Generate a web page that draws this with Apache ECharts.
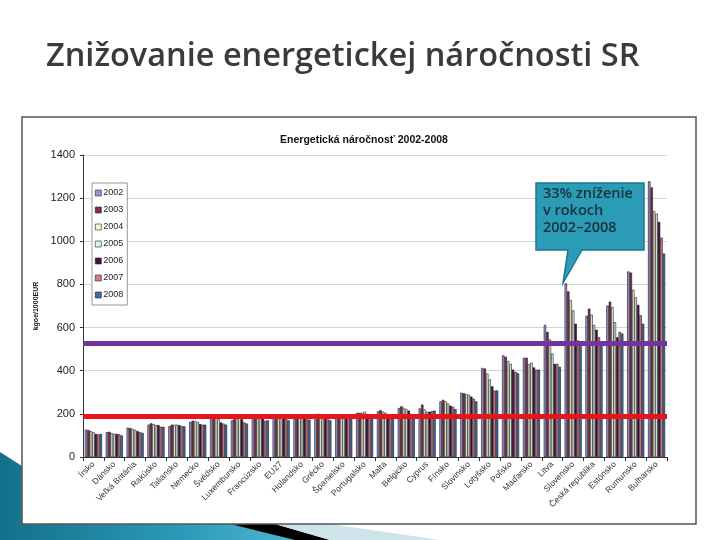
<!DOCTYPE html>
<html><head><meta charset="utf-8">
<script src="https://cdn.jsdelivr.net/npm/echarts@6/dist/echarts.min.js"></script>
<style>html,body{margin:0;padding:0;background:#fff}#c{width:720px;height:540px}</style>
</head><body><div id="c"></div>
<script>
const categories = ['Írsko','Dánsko','Veľká Británia','Rakúsko','Taliansko','Nemecko','Švédsko','Luxembursko','Francúzsko','EU27','Holandsko','Grécko','Španielsko','Portugalsko','Malta','Belgicko','Cyprus','Fínsko','Slovinsko','Lotyšsko','Poľsko','Maďarsko','Litva','Slovensko','Česká republika','Estónsko','Rumunsko','Bulharsko'];
const years = ['2002','2003','2004','2005','2006','2007','2008'];
const v2002 = [127,115,136,150,143,163,195,170,190,190,190,195,190,205,212,227,225,258,298,413,471,460,612,805,655,702,860,1278];
const v2003 = [125,117,134,156,150,168,190,180,190,190,190,200,192,205,217,235,243,265,295,410,465,460,580,768,688,720,855,1250];
const v2004 = [120,110,130,153,150,167,180,185,187,190,190,195,192,205,210,228,220,258,292,387,445,430,545,728,660,695,775,1140];
const v2005 = [115,108,126,148,150,162,175,185,185,188,188,190,192,210,205,222,210,248,288,360,432,437,480,680,612,625,740,1128];
const v2006 = [107,107,120,148,148,153,160,175,178,185,187,187,190,200,190,215,210,238,280,328,405,415,432,618,590,555,705,1090];
const v2007 = [105,105,115,140,143,150,155,160,168,178,180,183,185,195,185,200,213,233,270,308,395,405,432,540,555,580,657,1017];
const v2008 = [107,100,112,140,142,150,150,155,170,170,173,170,180,190,190,198,215,222,258,308,388,405,418,535,530,572,618,943];
const seriesValues = [v2002,v2003,v2004,v2005,v2006,v2007,v2008];
const yTicks = [0,200,400,600,800,1000,1200,1400];
const refLines = [527, 188];

const colors = ['#9A93D8','#7E2F4E','#F7F5CC','#DAF4F0','#4A0D40','#D97A85','#3A6DB0'];
const chart = echarts.init(document.getElementById('c'), null, {renderer:'canvas'});

const series = years.map((y,i)=>({
  name: y, type:'bar', data: seriesValues[i],
  barGap: '0%', barCategoryGap: '18%',
  itemStyle:{color:colors[i], borderColor:'#1a1a1a', borderWidth:0.6},
  z: 2
}));
series[0].markLine = {
  silent:true, symbol:['none','none'], z:5,
  label:{show:false},
  data:[
    {yAxis: refLines[0], lineStyle:{color:'#7533A0', width:5, type:'solid'}},
    {yAxis: refLines[1], lineStyle:{color:'#E8141C', width:5, type:'solid'}}
  ]
};

chart.setOption({
  animation:false,
  backgroundColor:'#fff',
  textStyle:{fontFamily:'Liberation Sans, Arial, sans-serif'},
  title:{
    text:'Energetická náročnosť 2002-2008', left:359, top:130, textAlign:'center',
    textStyle:{fontSize:10.5, fontWeight:'bold', color:'#111', fontFamily:'Liberation Sans'}
  },
  legend:{
    orient:'vertical', left:92, top:183, data:years,
    itemWidth:6, itemHeight:6, itemGap:7, icon:'rect',
    padding:[5,4,5,3], borderColor:'#999', borderWidth:1, backgroundColor:'#fff',
    textStyle:{fontSize:9, color:'#222', padding:[0,0,0,-3], lineHeight:10},
    itemStyle:{borderColor:'#222', borderWidth:0.6}
  },
  grid:{left:83, right:53, top:155, bottom:83, containLabel:false},
  xAxis:{
    type:'category', data:categories,
    axisLine:{lineStyle:{color:'#333', width:1}},
    axisTick:{show:true, length:4, lineStyle:{color:'#333'}},
    axisLabel:{rotate:45, fontSize:8.5, color:'#333', interval:0, margin:6, fontFamily:'Liberation Sans'}
  },
  yAxis:{
    type:'value', min:yTicks[0], max:yTicks[yTicks.length-1], interval:200,
    name:'kgoe/1000EUR', nameLocation:'middle', nameGap:43, nameRotate:90,
    nameTextStyle:{fontSize:7, fontWeight:'bold', color:'#111'},
    axisLine:{show:true, lineStyle:{color:'#333', width:1}},
    axisTick:{show:true, length:3, lineStyle:{color:'#333'}},
    axisLabel:{fontSize:11, color:'#222', margin:8, fontFamily:'Liberation Sans', formatter:(v)=>String(v)},
    splitLine:{show:true, lineStyle:{color:'#d6d6d6', width:1}}
  },
  series: series,
  graphic:[
    {type:'polygon', z:-1, shape:{points:[[0,452],[22,466],[22,524],[230,524],[300,540],[0,540]]},
      style:{fill:new echarts.graphic.LinearGradient(0,0,1,0,[{offset:0,color:'#13708a'},{offset:0.6,color:'#2b9ab8'},{offset:1,color:'#4fb6d0'}])}},
    {type:'polygon', z:-1, shape:{points:[[230,524],[275,524],[330,540],[295,540]]}, style:{fill:'#000'}},
    {type:'polygon', z:-1, shape:{points:[[275,524],[330,524],[440,540],[330,540]]}, style:{fill:'#cfe3ea'}},
    {type:'rect', z:0, shape:{x:22, y:117, width:674, height:407}, style:{fill:'none', stroke:'#555', lineWidth:1.5}},
    {type:'text', z:10, left:46, top:40,
      style:{text:'Znižovanie energetickej náročnosti SR', fill:'#3a3a3a', font:'600 32.5px "Open Sans", sans-serif'}},
    {type:'polygon', z:100, shape:{points:[[536,183],[644,183],[644,250],[582,250],[563,283],[568,250],[536,250]]},
      style:{fill:'#2C9BB5', stroke:'#1c7890', lineWidth:1.5}},
    {type:'text', z:101, left:543, top:185,
      style:{text:'33% zníženie\nv rokoch\n2002–2008', fill:'#16323f', font:'600 14.5px "Open Sans", sans-serif', lineHeight:17}}
  ]
});
</script></body></html>
